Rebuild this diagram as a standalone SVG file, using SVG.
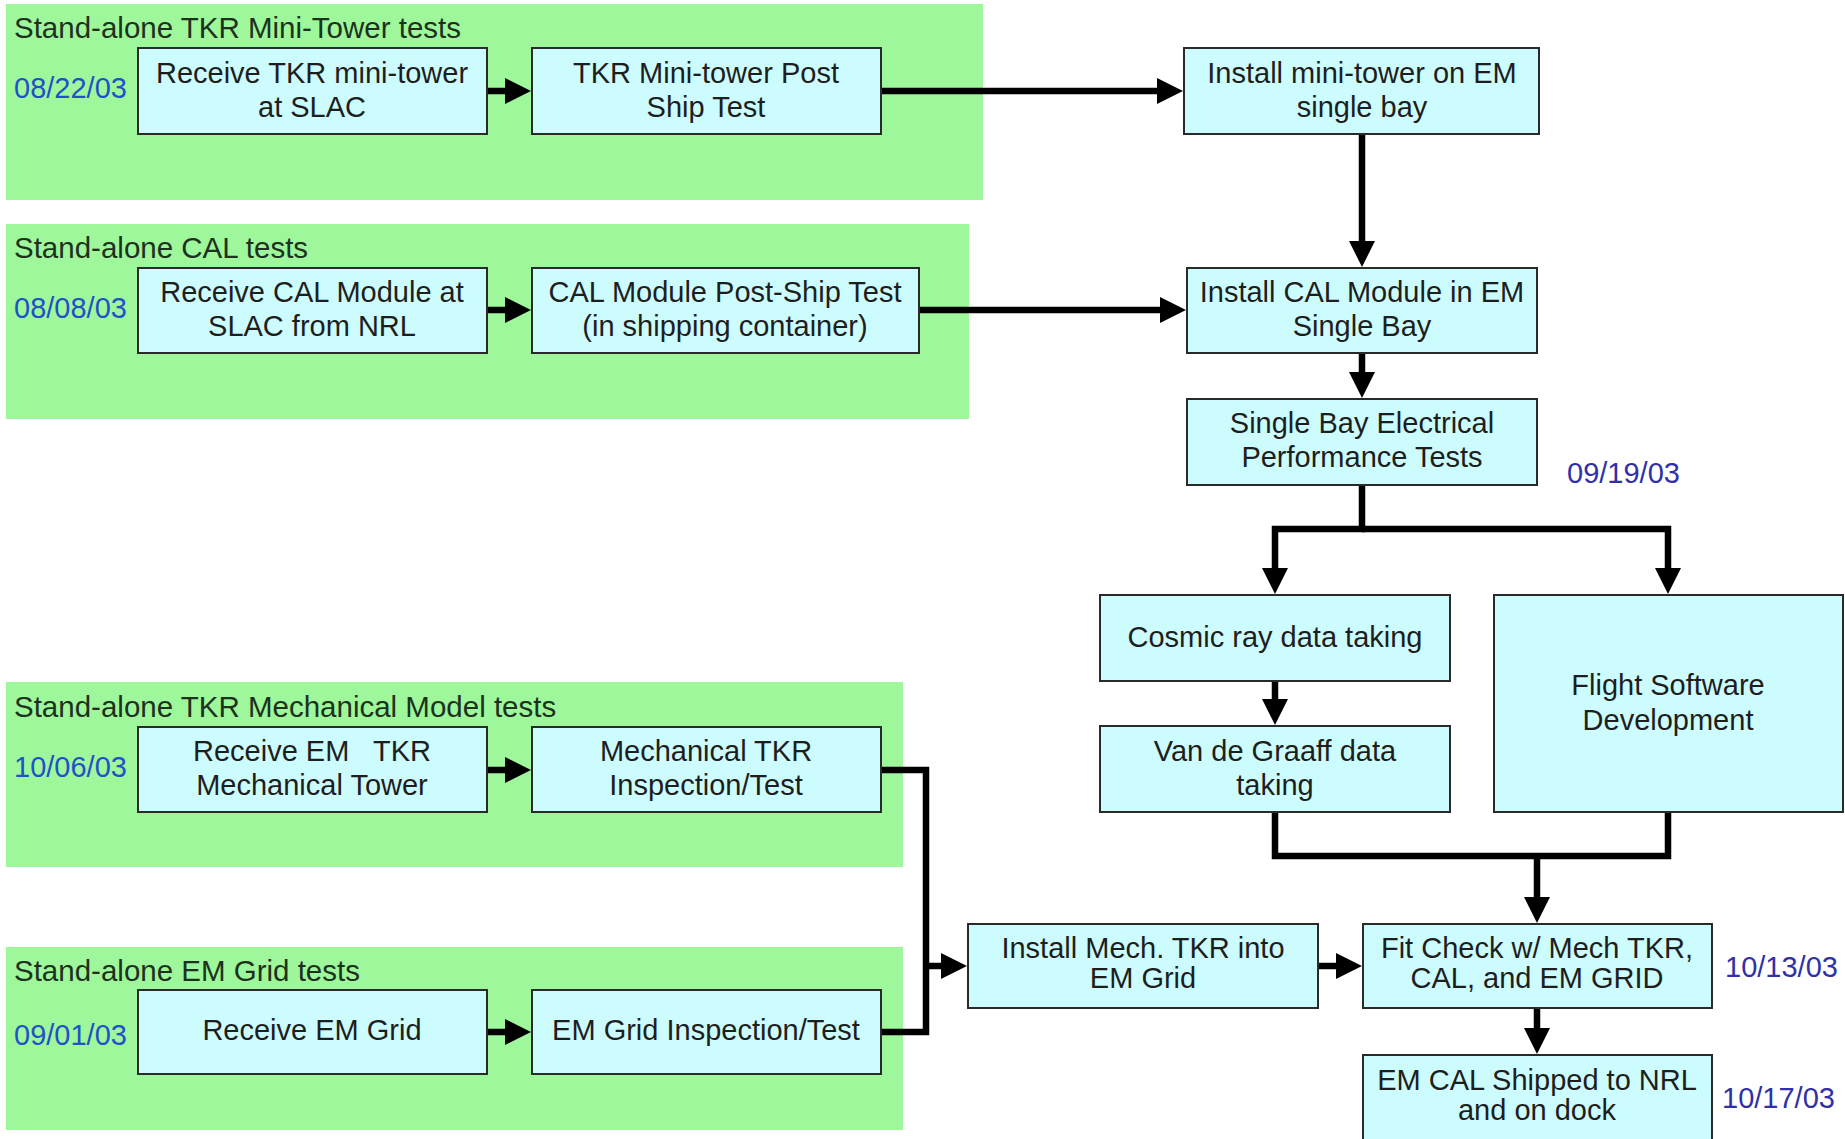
<svg xmlns="http://www.w3.org/2000/svg" width="1845" height="1139" viewBox="0 0 1845 1139">
<defs>
<style>
.panel{fill:#9ef79b}
.box{fill:#ccfcfd;stroke:#2a2a2a;stroke-width:2}
.t{font-family:"Liberation Sans",Arial,sans-serif;font-size:29px;fill:#1e1e1e;text-anchor:middle}
.title{font-family:"Liberation Sans",Arial,sans-serif;font-size:29.5px;fill:#1d321d}
.dl{font-family:"Liberation Sans",Arial,sans-serif;font-size:29px;fill:#1f52c8}
.dr{font-family:"Liberation Sans",Arial,sans-serif;font-size:29px;fill:#3030a8}
.c{fill:none;stroke:#000;stroke-width:6.5;stroke-linejoin:miter}
</style>
<marker id="ah" markerUnits="userSpaceOnUse" markerWidth="28" markerHeight="26" refX="1" refY="13" orient="auto">
<path d="M0,0 L26,13 L0,26 z" fill="#000"/>
</marker>
</defs>
<rect width="1845" height="1139" fill="#ffffff"/>

<g id="panel-minitower">
<rect class="panel" x="6" y="4" width="977" height="196"/>
<text class="title" x="14" y="38">Stand-alone TKR Mini-Tower tests</text>
<text class="dl" x="14" y="98">08/22/03</text>
</g>
<g id="panel-cal">
<rect class="panel" x="6" y="224" width="963" height="195"/>
<text class="title" x="14" y="258">Stand-alone CAL tests</text>
<text class="dl" x="14" y="318">08/08/03</text>
</g>
<g id="panel-mech">
<rect class="panel" x="6" y="682" width="897" height="185"/>
<text class="title" x="14" y="717">Stand-alone TKR Mechanical Model tests</text>
<text class="dl" x="14" y="777">10/06/03</text>
</g>
<g id="panel-grid">
<rect class="panel" x="6" y="947" width="897" height="183"/>
<text class="title" x="14" y="981">Stand-alone EM Grid tests</text>
<text class="dl" x="14" y="1045">09/01/03</text>
</g>

<g id="connectors">
<path class="c" d="M487,91 H506" marker-end="url(#ah)"/>
<path class="c" d="M881,91 H1158" marker-end="url(#ah)"/>
<path class="c" d="M1362,134 V242" marker-end="url(#ah)"/>
<path class="c" d="M487,310 H506" marker-end="url(#ah)"/>
<path class="c" d="M919,310 H1161" marker-end="url(#ah)"/>
<path class="c" d="M1362,353 V373" marker-end="url(#ah)"/>
<path class="c" d="M1362,485 V529 H1275 V569" marker-end="url(#ah)"/>
<path class="c" d="M1362,529 H1668 V569" marker-end="url(#ah)"/>
<path class="c" d="M1275,681 V700" marker-end="url(#ah)"/>
<path class="c" d="M1275,812 V856 H1668 V812"/>
<path class="c" d="M1537,856 V898" marker-end="url(#ah)"/>
<path class="c" d="M487,770 H506" marker-end="url(#ah)"/>
<path class="c" d="M487,1032 H506" marker-end="url(#ah)"/>
<path class="c" d="M881,770 H926 V1032 H881"/>
<path class="c" d="M926,966 H942" marker-end="url(#ah)"/>
<path class="c" d="M1318,966 H1337" marker-end="url(#ah)"/>
<path class="c" d="M1537,1008 V1029" marker-end="url(#ah)"/>
</g>

<g id="receive-tkr-minitower">
<rect class="box" x="138" y="48" width="349" height="86"/>
<text class="t" x="312" y="83">Receive TKR mini-tower</text>
<text class="t" x="312" y="117">at SLAC</text>
</g>
<g id="tkr-post-ship">
<rect class="box" x="532" y="48" width="349" height="86"/>
<text class="t" x="706" y="83">TKR Mini-tower Post</text>
<text class="t" x="706" y="117">Ship Test</text>
</g>
<g id="install-minitower">
<rect class="box" x="1184" y="48" width="355" height="86"/>
<text class="t" x="1362" y="83">Install mini-tower on EM</text>
<text class="t" x="1362" y="117">single bay</text>
</g>
<g id="receive-cal">
<rect class="box" x="138" y="268" width="349" height="85"/>
<text class="t" x="312" y="302">Receive CAL Module at</text>
<text class="t" x="312" y="336">SLAC from NRL</text>
</g>
<g id="cal-post-ship">
<rect class="box" x="532" y="268" width="387" height="85"/>
<text class="t" x="725" y="302">CAL Module Post-Ship Test</text>
<text class="t" x="725" y="336">(in shipping container)</text>
</g>
<g id="install-cal">
<rect class="box" x="1187" y="268" width="350" height="85"/>
<text class="t" x="1362" y="302">Install CAL Module in EM</text>
<text class="t" x="1362" y="336">Single Bay</text>
</g>
<g id="single-bay-tests">
<rect class="box" x="1187" y="399" width="350" height="86"/>
<text class="t" x="1362" y="433">Single Bay Electrical</text>
<text class="t" x="1362" y="467">Performance Tests</text>
<text class="dr" x="1567" y="483">09/19/03</text>
</g>
<g id="cosmic-ray">
<rect class="box" x="1100" y="595" width="350" height="86"/>
<text class="t" x="1275" y="647">Cosmic ray data taking</text>
</g>
<g id="van-de-graaff">
<rect class="box" x="1100" y="726" width="350" height="86"/>
<text class="t" x="1275" y="761">Van de Graaff data</text>
<text class="t" x="1275" y="795">taking</text>
</g>
<g id="flight-software">
<rect class="box" x="1494" y="595" width="349" height="217"/>
<text class="t" x="1668" y="695">Flight Software</text>
<text class="t" x="1668" y="730">Development</text>
</g>
<g id="receive-em-tkr">
<rect class="box" x="138" y="727" width="349" height="85"/>
<text class="t" x="312" y="761" style="white-space:pre">Receive EM   TKR</text>
<text class="t" x="312" y="795">Mechanical Tower</text>
</g>
<g id="mech-tkr-inspection">
<rect class="box" x="532" y="727" width="349" height="85"/>
<text class="t" x="706" y="761">Mechanical TKR</text>
<text class="t" x="706" y="795">Inspection/Test</text>
</g>
<g id="receive-em-grid">
<rect class="box" x="138" y="990" width="349" height="84"/>
<text class="t" x="312" y="1040">Receive EM Grid</text>
</g>
<g id="em-grid-inspection">
<rect class="box" x="532" y="990" width="349" height="84"/>
<text class="t" x="706" y="1040">EM Grid Inspection/Test</text>
</g>
<g id="install-mech-tkr">
<rect class="box" x="968" y="924" width="350" height="84"/>
<text class="t" x="1143" y="958">Install Mech. TKR into</text>
<text class="t" x="1143" y="988">EM Grid</text>
</g>
<g id="fit-check">
<rect class="box" x="1363" y="924" width="349" height="84"/>
<text class="t" x="1537" y="958">Fit Check w/ Mech TKR,</text>
<text class="t" x="1537" y="988">CAL, and EM GRID</text>
<text class="dr" x="1725" y="977">10/13/03</text>
</g>
<g id="em-cal-shipped">
<rect class="box" x="1363" y="1055" width="349" height="90"/>
<text class="t" x="1537" y="1090">EM CAL Shipped to NRL</text>
<text class="t" x="1537" y="1120">and on dock</text>
<text class="dr" x="1722" y="1108">10/17/03</text>
</g>
</svg>
